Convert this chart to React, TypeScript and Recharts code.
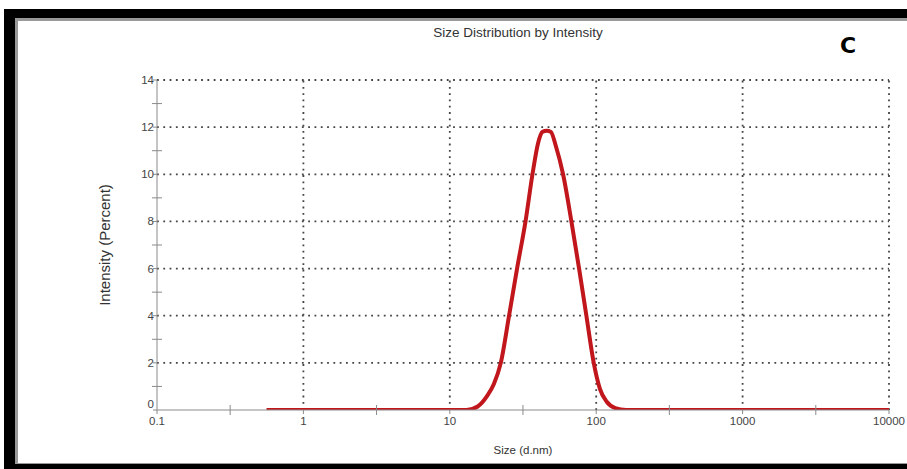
import { Label, Line, LineChart, ReferenceLine, XAxis, YAxis } from 'recharts'

// DLS size distribution (sample C)
const sizes = [0.56, 1, 3, 10, 13, 15.5, 18, 20, 22.3, 25.4, 28.8, 32.9, 36.7, 40, 43, 46, 49, 53, 59.4, 67.7, 76.4, 85.7, 96.2, 106, 118, 135, 160, 300, 1000, 3000, 10000]
const intensity = [0, 0, 0, 0, 0, 0.15, 0.6, 1.1, 2, 4, 6, 8, 10, 11.3, 11.8, 11.85, 11.8, 11.2, 10, 8, 6, 4, 2, 0.9, 0.35, 0.08, 0, 0, 0, 0, 0]

const xMajor = [0.1, 1, 10, 100, 1000, 10000]
const xMinor = [0.316, 3.16, 31.6, 316, 3162]
const yMajor = [0, 2, 4, 6, 8, 10, 12, 14]
const yMinor = [1, 3, 5, 7, 9, 11, 13]

const data = sizes.map((s, i) => ({ size: s, intensity: intensity[i] }))

const font = '"Liberation Sans", Arial, sans-serif'
const axisGray = '#8a8a8a'
const gridColor = '#444'

const XTick = (props) => {
    const { x, y, payload } = props
    const v = payload.value
    const major = xMajor.includes(v)
    if (!major) {
        return <line x1={x} x2={x} y1={y - 5} y2={y + 5} stroke={axisGray} strokeWidth={1} />
    }
    return (
        <g>
            <line x1={x} x2={x} y1={y} y2={y + 4} stroke={axisGray} strokeWidth={1} />
            <text x={x} y={y + 15} textAnchor="middle" fontSize={11.5} fill="#444" fontFamily={font}>
                {String(v)}
            </text>
        </g>
    )
}

const YTick = (props) => {
    const { x, y, payload } = props
    const v = payload.value
    if (yMinor.includes(v)) {
        return <line x1={x - 5} x2={x + 5} y1={y} y2={y} stroke={axisGray} strokeWidth={1} />
    }
    return (
        <g>
            <line x1={x - 4} x2={x} y1={y} y2={y} stroke={axisGray} strokeWidth={1} />
            <text x={x - 3} y={v === 0 ? y - 2 : y + 4} textAnchor="end" fontSize={11.5} fill="#444" fontFamily={font}>
                {String(v)}
            </text>
        </g>
    )
}

export default function App() {
    return (
        <div style={{ position: 'absolute', left: 0, top: 0, width: 907, height: 469, background: '#fff', overflow: 'hidden', fontFamily: font }}>
            {/* black frame */}
            <div style={{
                position: 'absolute', left: 4, top: 9, width: 920, height: 446,
                borderTop: '9px solid #000', borderLeft: '11px solid #000', borderBottom: '8px solid #000',
                boxShadow: 'inset 1px 1px 0 2px #999'
            }} />
            <div style={{ position: 'absolute', left: 0, top: 25, width: 1036, textAlign: 'center', fontSize: 13.5, color: '#333' }}>
                Size Distribution by Intensity
            </div>
            <div style={{ position: 'absolute', left: 840, top: 33, fontSize: 22, fontWeight: 'bold', color: '#000', fontFamily: '"DejaVu Sans", sans-serif' }}>
                C
            </div>
            <div style={{ position: 'absolute', left: 0, top: 0 }}>
                <LineChart width={907} height={469} data={data}
                    margin={{ top: 80, right: 18, left: 97, bottom: 29 }}>
                    {yMajor.slice(1).map(v => (
                        <ReferenceLine key={'h' + v} y={v} stroke={gridColor} strokeWidth={1.8} strokeDasharray="1.8 4.5" />
                    ))}
                    {xMajor.slice(1).map(v => (
                        <ReferenceLine key={'v' + v} x={v} stroke={gridColor} strokeWidth={1.8} strokeDasharray="1.8 4.5" />
                    ))}
                    <XAxis dataKey="size" type="number" scale="log" domain={[0.1, 10000]} allowDataOverflow
                        ticks={[...xMajor, ...xMinor].sort((a, b) => a - b)} interval={0}
                        tick={<XTick />} tickLine={false} tickSize={0} tickMargin={0}
                        stroke={axisGray} height={30}>
                        <Label value="Size (d.nm)" position="insideBottom" offset={-14} fontSize={11.5} fill="#333" fontFamily={font} />
                    </XAxis>
                    <YAxis type="number" domain={[0, 14]} allowDataOverflow
                        ticks={[...yMajor, ...yMinor].sort((a, b) => a - b)} interval={0}
                        tick={<YTick />} tickLine={false} tickSize={0} tickMargin={0}
                        stroke={axisGray} width={60}>
                        <Label value="Intensity (Percent)" angle={-90} position="insideLeft" offset={8}
                            fontSize={15} fill="#333" fontFamily={font} style={{ textAnchor: 'middle' }} />
                    </YAxis>
                    <Line type="monotone" dataKey="intensity" stroke="#c0161c" strokeWidth={4}
                        dot={false} isAnimationActive={false} />
                </LineChart>
            </div>
        </div>
    )
}
